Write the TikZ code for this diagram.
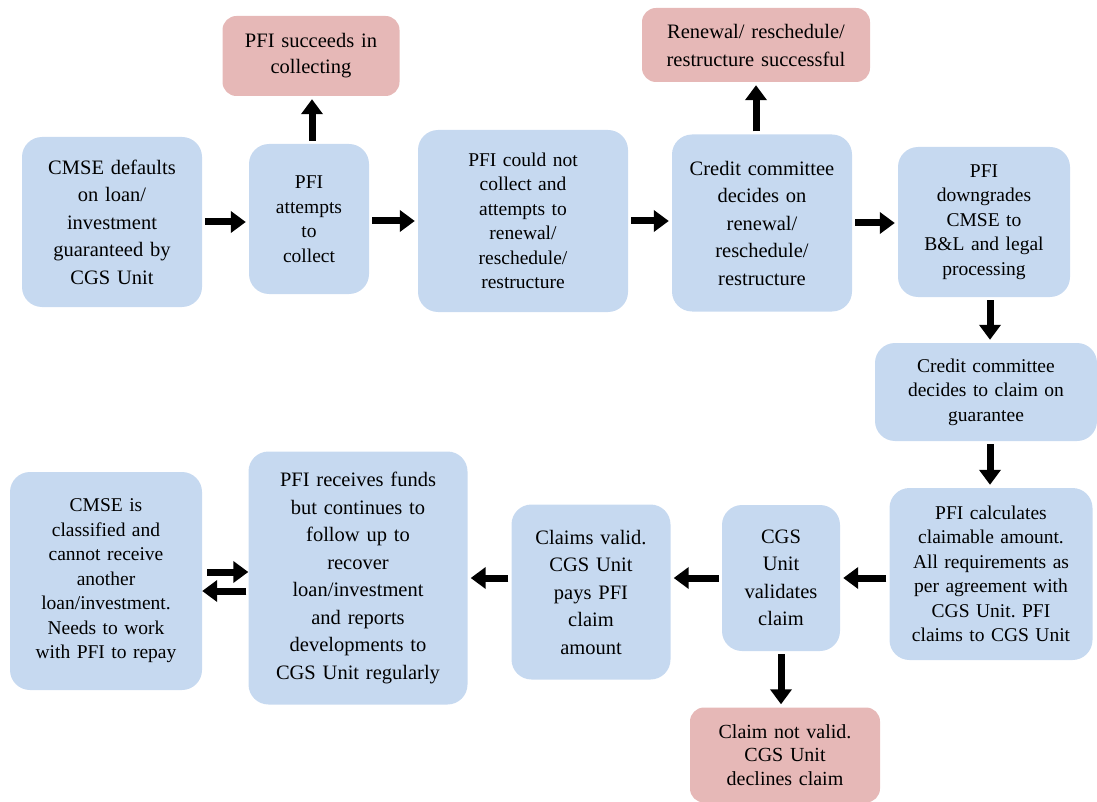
\documentclass[tikz,border=0pt]{standalone}
\usepackage{fontspec}
\setmainfont{Liberation Serif}
\usetikzlibrary{arrows.meta}
\frenchspacing

\definecolor{stepblue}{HTML}{C6D9F0}
\definecolor{steppink}{HTML}{E6B8B7}

\tikzset{
  box/.style={fill=stepblue, rounded corners=20pt, align=center, inner sep=0pt,
    font=\rmfamily\fontsize{20.5}{27.5}\selectfont},
  tight/.style={font=\rmfamily\fontsize{19.5}{24.5}\selectfont},
  endbox/.style={box, fill=steppink, rounded corners=14pt},
  flow/.style={line width=7pt, -{Triangle[length=15pt,width=21pt]},
    shorten <=3pt, shorten >=3pt},
}

\begin{document}
\begin{tikzpicture}[x=1pt,y=-1pt]
\useasboundingbox (0,0) rectangle (1097,802);

% top row
\node[box, minimum width=180pt, minimum height=170pt, text width=170pt] (default) at (112,222)
  {CMSE defaults\\on loan/\\investment\\guaranteed by\\CGS Unit};
\node[box, tight, minimum width=120pt, minimum height=150pt, text width=110pt] (attempt) at (309,219)
  {PFI\\attempts\\to\\collect};
\node[endbox, minimum width=177pt, minimum height=80pt, text width=170pt,
  font=\rmfamily\fontsize{20.5}{26}\selectfont] (succeed) at (311,56)
  {PFI succeeds in\\collecting};
\node[box, tight, minimum width=210pt, minimum height=182pt, text width=200pt] (couldnot) at (523,221)
  {PFI could not\\collect and\\attempts to\\renewal/\\reschedule/\\restructure};
\node[box, minimum width=180pt, minimum height=177pt, text width=176pt] (renew) at (762,223)
  {Credit committee\\decides on\\renewal/\\reschedule/\\restructure};
\node[endbox, minimum width=228pt, minimum height=74pt, text width=220pt,
  font=\rmfamily\fontsize{20.5}{28}\selectfont] (renewok) at (756,45)
  {Renewal/ reschedule/\\restructure successful};
\node[box, tight, minimum width=172pt, minimum height=150pt, text width=166pt] (downgrade) at (984,222)
  {PFI\\downgrades\\CMSE to\\B\&L and legal\\processing};

% right column
\node[box, tight, minimum width=222pt, minimum height=98pt, text width=214pt] (claimdec) at (986,392)
  {Credit committee\\decides to claim on\\guarantee};
\node[box, tight, minimum width=203pt, minimum height=172pt, text width=200pt] (calc) at (991,574)
  {PFI calculates\\claimable amount.\\All requirements as\\per agreement with\\CGS Unit. PFI\\claims to CGS Unit};

% bottom row
\node[box, minimum width=118pt, minimum height=146pt, text width=110pt] (validate) at (781,578)
  {CGS\\Unit\\validates\\claim};
\node[endbox, minimum width=190pt, minimum height=95pt, text width=180pt,
  font=\rmfamily\fontsize{20}{23.5}\selectfont] (notvalid) at (785,755)
  {Claim not valid.\\CGS Unit\\declines claim};
\node[box, minimum width=159pt, minimum height=175pt, text width=150pt] (valid) at (591,592)
  {Claims valid.\\CGS Unit\\pays PFI\\claim\\amount};
\node[box, minimum width=219pt, minimum height=253pt, text width=212pt] (recv) at (358,578)
  {PFI receives funds\\but continues to\\follow up to\\recover\\loan/investment\\and reports\\developments to\\CGS Unit regularly};
\node[box, tight, minimum width=192pt, minimum height=218pt, text width=186pt] (classified) at (106,581)
  {CMSE is\\classified and\\cannot receive\\another\\loan/investment.\\Needs to work\\with PFI to repay};

% connectors
\draw[flow] (default.east) -- (default.east -| attempt.west);
\draw[flow] ([xshift=3pt]attempt.north) -- ([xshift=3pt]attempt.north |- succeed.south);
\draw[flow] (attempt.east |- couldnot) -- (couldnot.west);
\draw[flow] (couldnot.east) -- (couldnot.east -| renew.west);
\draw[flow] (renew.north -| renewok) -- (renewok.south);
\draw[flow] (renew.east) -- (renew.east -| downgrade.west);
\draw[flow] ([xshift=6pt]downgrade.south) -- ([xshift=6pt]downgrade.south |- claimdec.north);
\draw[flow] ([xshift=4pt]claimdec.south) -- ([xshift=4pt]claimdec.south |- calc.north);
\draw[flow] (calc.west |- validate) -- (validate.east);
\draw[flow] (validate.west) -- (validate.west -| valid.east);
\draw[flow] (valid.west |- recv) -- (recv.east);
\draw[flow] (validate.south) -- (validate.south |- notvalid.north);
\draw[flow, shorten <=5pt, shorten >=0pt] ([yshift=6pt]recv.west -| classified.east) -- ([yshift=6pt]recv.west);
\draw[flow, shorten <=2pt, shorten >=0pt] ([yshift=-13pt]recv.west) -- ([yshift=-13pt]recv.west -| classified.east);
\end{tikzpicture}
\end{document}
